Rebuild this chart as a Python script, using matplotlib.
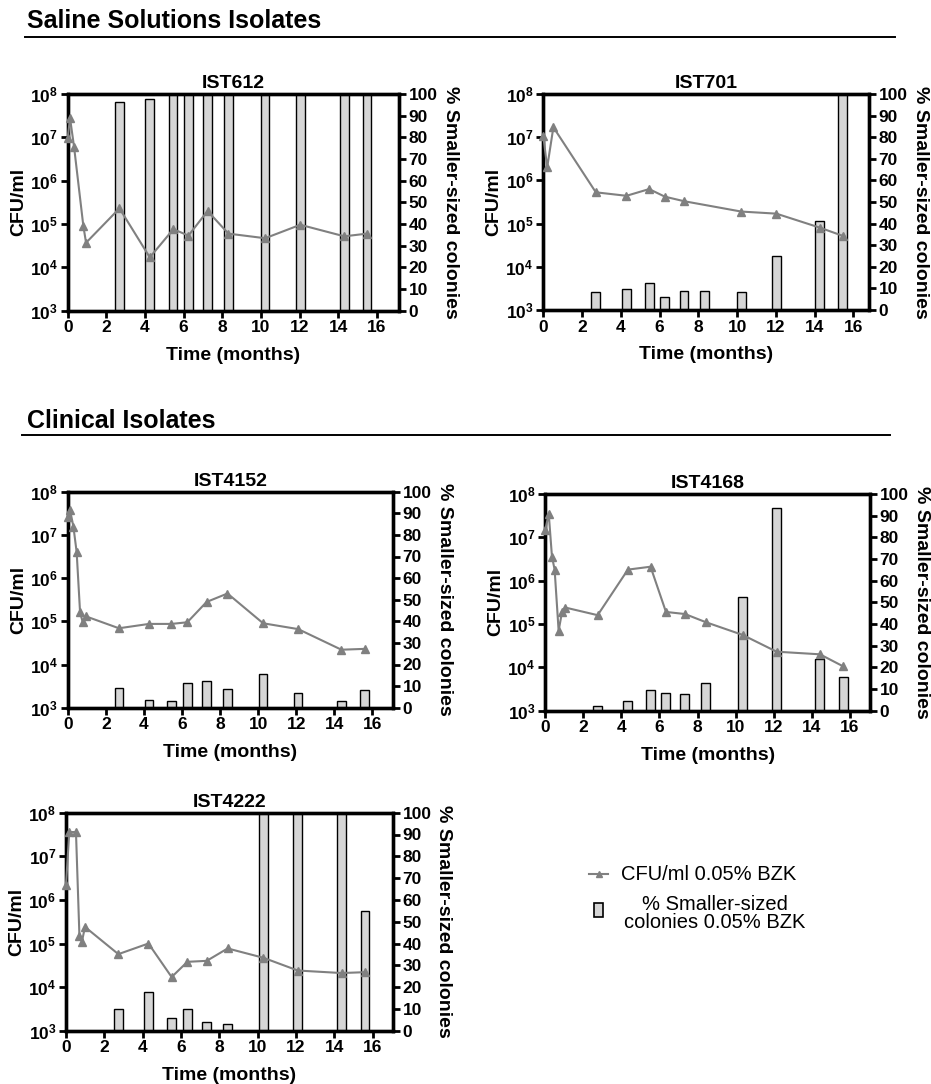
import matplotlib
matplotlib.use("Agg")
import math
import matplotlib.pyplot as plt
from matplotlib.lines import Line2D
from matplotlib.patches import Rectangle
from matplotlib.ticker import FixedLocator, FuncFormatter, NullLocator

plt.rcParams['font.family'] = ['Liberation Sans', 'DejaVu Sans']
plt.rcParams['mathtext.fontset'] = 'custom'
plt.rcParams['mathtext.rm'] = 'Liberation Sans:bold'
plt.rcParams['mathtext.bf'] = 'Liberation Sans:bold'
plt.rcParams['mathtext.it'] = 'Liberation Sans:bold'

# ---------------- data ----------------
strains = ["IST612", "IST701", "IST4152", "IST4168", "IST4222"]

ist612_t = [0, 0.12, 0.33, 0.81, 0.95, 2.68, 4.25, 5.47, 6.25, 7.24, 8.32, 10.22, 12.04, 14.32, 15.49]
ist612_cfu = [9.5e6, 2.8e7, 6e6, 9e4, 3.7e4, 2.3e5, 1.7e4, 7.6e4, 5.4e4, 2e5, 6e4, 4.7e4, 9.6e4, 5.2e4, 6e4]
ist612_bt = [2.68, 4.23, 5.45, 6.25, 7.24, 8.32, 10.22, 12.04, 14.32, 15.49]
ist612_pct = [96.5, 97.5, 100, 100, 100, 100, 100, 100, 100, 100]

ist701_t = [0, 0.2, 0.52, 2.71, 4.29, 5.46, 6.27, 7.26, 10.21, 12.02, 14.25, 15.45]
ist701_cfu = [1.07e7, 2e6, 1.7e7, 5.3e5, 4.4e5, 6.3e5, 4.2e5, 3.3e5, 1.9e5, 1.7e5, 8.1e4, 5.2e4]
ist701_bt = [2.71, 4.29, 5.46, 6.27, 7.26, 8.33, 10.21, 12.02, 14.25, 15.45]
ist701_pct = [8.2, 9.6, 12.3, 6.0, 9.0, 8.8, 8.5, 25.2, 41, 100]

ist4152_t = [0, 0.12, 0.3, 0.47, 0.65, 0.79, 0.96, 2.69, 4.27, 5.45, 6.28, 7.29, 8.39, 10.26, 12.1, 14.37, 15.59]
ist4152_cfu = [2.6e7, 3.8e7, 1.55e7, 4e6, 1.6e5, 9.5e4, 1.3e5, 6.9e4, 8.7e4, 8.7e4, 9.5e4, 2.8e5, 4.4e5, 9e4, 6.6e4, 2.2e4, 2.3e4]
ist4152_bt = [2.69, 4.27, 5.45, 6.28, 7.29, 8.39, 10.26, 12.1, 14.37, 15.59]
ist4152_pct = [9.0, 3.7, 3.2, 11.6, 12.2, 8.8, 15.6, 6.9, 3.2, 8.2]

ist4168_t = [0, 0.18, 0.35, 0.49, 0.7, 0.88, 1.05, 2.75, 4.34, 5.53, 6.34, 7.34, 8.44, 10.37, 12.15, 14.43, 15.66]
ist4168_cfu = [1.5e7, 3.5e7, 3.6e6, 1.8e6, 7e4, 1.9e5, 2.4e5, 1.6e5, 1.8e6, 2.1e6, 1.9e5, 1.7e5, 1.1e5, 5.6e4, 2.3e4, 2.0e4, 1.05e4]
ist4168_bt = [2.75, 4.31, 5.52, 6.32, 7.32, 8.42, 10.35, 12.15, 14.41, 15.66]
ist4168_pct = [2.0, 4.6, 9.5, 8.0, 7.7, 12.9, 52.3, 93.4, 23.7, 15.7]

ist4222_t = [0, 0.17, 0.52, 0.7, 0.83, 0.99, 2.73, 4.3, 5.51, 6.33, 7.34, 8.43, 10.3, 12.09, 14.38, 15.6]
ist4222_cfu = [2.2e6, 3.6e7, 3.6e7, 1.5e5, 1.1e5, 2.4e5, 5.7e4, 1e5, 1.7e4, 3.8e4, 4e4, 7.7e4, 4.7e4, 2.4e4, 2.1e4, 2.2e4]
ist4222_bt = [2.73, 4.3, 5.51, 6.33, 7.34, 8.43, 10.3, 12.09, 14.38, 15.6]
ist4222_pct = [9.8, 17.9, 6.0, 9.8, 3.8, 2.9, 100, 100, 100, 55]

x_ticks = [0, 2, 4, 6, 8, 10, 12, 14, 16]
log_ticks = [1e3, 1e4, 1e5, 1e6, 1e7, 1e8]
pct_ticks = [0, 10, 20, 30, 40, 50, 60, 70, 80, 90, 100]

section_titles = ["Saline Solutions Isolates", "Clinical Isolates"]
legend_line_label = "CFU/ml 0.05% BZK"
legend_bar_label = "% Smaller-sized\ncolonies 0.05% BZK"

# ---------------- layout ----------------
W, H = 931, 1084
fig = plt.figure(figsize=(W / 100, H / 100), dpi=100)

def box(l, r, t, b):
    return [l / W, 1 - b / H, (r - l) / W, (b - t) / H]

panels = [
    (strains[0], ist612_t, ist612_cfu, ist612_bt, ist612_pct, box(67.7, 399, 94, 310.7), 17.15),
    (strains[1], ist701_t, ist701_cfu, ist701_bt, ist701_pct, box(543.3, 869, 94, 310), 16.8),
    (strains[2], ist4152_t, ist4152_cfu, ist4152_bt, ist4152_pct, box(67.7, 393, 491.7, 707.7), 17.08),
    (strains[3], ist4168_t, ist4168_cfu, ist4168_bt, ist4168_pct, box(545.3, 870, 494, 710.7), 17.06),
    (strains[4], ist4222_t, ist4222_cfu, ist4222_bt, ist4222_pct, box(66, 392.7, 812.7, 1030.7), 17.04),
]

LINE_C = "#808080"
BAR_C = "#d6d6d6"
SPW = 2.4
TICKFS = 12.5
LABFS = 14

def log_fmt(v, pos):
    e = int(round(math.log10(v)))
    return r"$10^{%d}$" % e

for name, t, cfu, bt, pct, pos, xmax in panels:
    ax = fig.add_axes(pos)
    ax2 = ax.twinx()
    ax2.bar(bt, pct, width=0.45, color=BAR_C, edgecolor="black", linewidth=1.0, zorder=2)
    ax2.set_ylim(0, 100)
    ax2.yaxis.set_major_locator(FixedLocator(pct_ticks))
    ax.set_zorder(ax2.get_zorder() + 1)
    ax.patch.set_visible(False)
    ax.plot(t, cfu, color=LINE_C, linewidth=1.5, marker="^", markersize=6,
            markerfacecolor=LINE_C, markeredgecolor=LINE_C, clip_on=False, zorder=3)
    ax.set_yscale("log")
    ax.set_ylim(1e3, 1e8)
    ax.yaxis.set_major_locator(FixedLocator(log_ticks))
    ax.yaxis.set_minor_locator(NullLocator())
    ax.yaxis.set_major_formatter(FuncFormatter(log_fmt))
    ax.set_xlim(0, xmax)
    ax.xaxis.set_major_locator(FixedLocator(x_ticks))
    for a in (ax, ax2):
        for s in a.spines.values():
            s.set_linewidth(SPW)
        a.tick_params(axis="both", which="major", direction="out", length=5,
                      width=2, labelsize=TICKFS, pad=2)
        for lab in a.get_xticklabels() + a.get_yticklabels():
            lab.set_fontweight("bold")
    ax.set_title(name, fontsize=LABFS, fontweight="bold", pad=4)
    ax.set_xlabel("Time (months)", fontsize=LABFS, fontweight="bold", labelpad=8)
    ax.set_ylabel("CFU/ml", fontsize=LABFS, fontweight="bold", labelpad=2)
    ax2.set_ylabel("% Smaller-sized colonies", fontsize=LABFS, fontweight="bold",
                   rotation=270, labelpad=15)

# section headers
fig.text(27 / W, 1 - 28 / H, section_titles[0], fontsize=18, fontweight="bold",
         ha="left", va="baseline")
fig.add_artist(Line2D([25 / W, 895 / W], [1 - 37 / H, 1 - 37 / H], color="black", linewidth=1.4))
fig.text(27 / W, 1 - 428 / H, section_titles[1], fontsize=18, fontweight="bold",
         ha="left", va="baseline")
fig.add_artist(Line2D([22 / W, 890 / W], [1 - 435 / H, 1 - 435 / H], color="black", linewidth=1.4))

# legend (manual)
ly = 1 - 874 / H
fig.add_artist(Line2D([589 / W, 608 / W], [ly, ly], color=LINE_C, linewidth=1.5))
fig.add_artist(Line2D([598.5 / W], [ly], color=LINE_C, marker="^", markersize=5, linestyle="none"))
fig.text(621 / W, ly, legend_line_label, fontsize=14.5, ha="left", va="center")
fig.add_artist(Rectangle((594 / W, 1 - 917 / H), 8.5 / W, 14 / H, facecolor=BAR_C,
                         edgecolor="black", linewidth=1.2, transform=fig.transFigure))
fig.text(715 / W, 1 - 913.5 / H, legend_bar_label, fontsize=14.5, ha="center", va="center",
         multialignment="center", linespacing=0.95)

fig.savefig("out.png", dpi=100)
